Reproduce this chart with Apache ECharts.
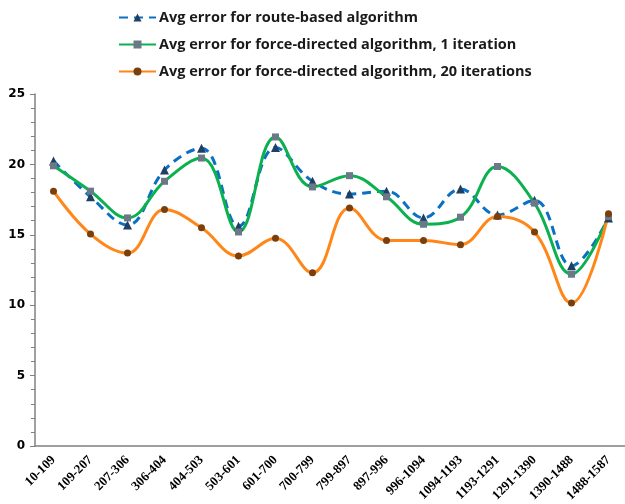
<!DOCTYPE html>
<html>
<head>
<meta charset="utf-8">
<script src="https://cdn.jsdelivr.net/npm/echarts@6/dist/echarts.min.js"></script>
<style>
  html, body { margin: 0; padding: 0; background: #fff; }
  #chart { width: 625px; height: 504px; }
</style>
</head>
<body>
<div id="chart"></div>
<script>
// categories (node ranges)
var ranges = ['10-109', '109-207', '207-306', '306-404', '404-503', '503-601', '601-700', '700-799',
  '799-897', '897-996', '996-1094', '1094-1193', '1193-1291', '1291-1390', '1390-1488', '1488-1587'];

// average errors
var routeBased = [20.25, 17.7, 15.7, 19.6, 21.15, 15.6, 21.2, 18.8, 17.9, 18.1, 16.2, 18.25, 16.4, 17.45, 12.8, 16.2];
var force1 = [19.9, 18.1, 16.2, 18.8, 20.45, 15.2, 21.95, 18.4, 19.2, 17.7, 15.75, 16.25, 19.85, 17.25, 12.2, 16.3];
var force20 = [18.1, 15.05, 13.7, 16.8, 15.5, 13.5, 14.75, 12.3, 16.9, 14.6, 14.6, 14.3, 16.3, 15.2, 10.15, 16.5];

var yTicks = [0, 5, 10, 15, 20, 25];

var myChart = echarts.init(document.getElementById('chart'));

var option = {
    animation: false,
    legend: {
        orient: 'vertical',
        left: 113,
        top: 5,
        itemGap: 12,
        itemWidth: 37,
        itemHeight: 10,
        textStyle: {
            fontFamily: 'Open Sans',
            fontWeight: 'bold',
            fontSize: 14.5,
            color: '#1a1a1a',
            padding: [0, 0, 0, -2]
        },
        data: [
            'Avg error for route-based algorithm',
            'Avg error for force-directed algorithm, 1 iteration',
            'Avg error for force-directed algorithm, 20 iterations'
        ]
    },
    grid: {
        left: 35,
        top: 94,
        width: 592,
        height: 352,
        outerBoundsMode: 'none'
    },
    xAxis: {
        type: 'category',
        data: ranges,
        axisLine: { lineStyle: { color: '#808080', width: 1.5 } },
        axisTick: { length: 5, lineStyle: { color: '#808080' } },
        axisLabel: {
            rotate: 45,
            interval: 0,
            margin: 12,
            fontFamily: 'Liberation Serif',
            fontWeight: 'bold',
            fontSize: 13,
            color: '#000'
        }
    },
    yAxis: {
        type: 'value',
        min: yTicks[0],
        max: yTicks[yTicks.length - 1],
        interval: 5,
        splitLine: { show: false },
        axisLine: { show: true, lineStyle: { color: '#808080', width: 1.5 } },
        axisTick: { show: true, length: 5, lineStyle: { color: '#808080' } },
        minorTick: { show: true, splitNumber: 5, length: 4, lineStyle: { color: '#808080' } },
        axisLabel: {
            margin: 10,
            fontFamily: 'DejaVu Sans',
            fontWeight: 'bold',
            fontSize: 12,
            color: '#000'
        }
    },
    series: [
        {
            name: 'Avg error for route-based algorithm',
            type: 'line',
            data: routeBased,
            smooth: 0.4,
            symbol: 'triangle',
            symbolSize: 9,
            itemStyle: { color: '#1f3f63' },
            lineStyle: { color: '#0b70c4', width: 3, type: [9, 6] }
        },
        {
            name: 'Avg error for force-directed algorithm, 1 iteration',
            type: 'line',
            data: force1,
            smooth: 0.4,
            symbol: 'rect',
            symbolSize: 7,
            itemStyle: { color: '#6b7888' },
            lineStyle: { color: '#0bb04f', width: 3 }
        },
        {
            name: 'Avg error for force-directed algorithm, 20 iterations',
            type: 'line',
            data: force20,
            smooth: 0.4,
            symbol: 'circle',
            symbolSize: 7,
            itemStyle: { color: '#7b3f0c' },
            lineStyle: { color: '#ff8618', width: 3 }
        }
    ]
};

myChart.setOption(option);
</script>
</body>
</html>
